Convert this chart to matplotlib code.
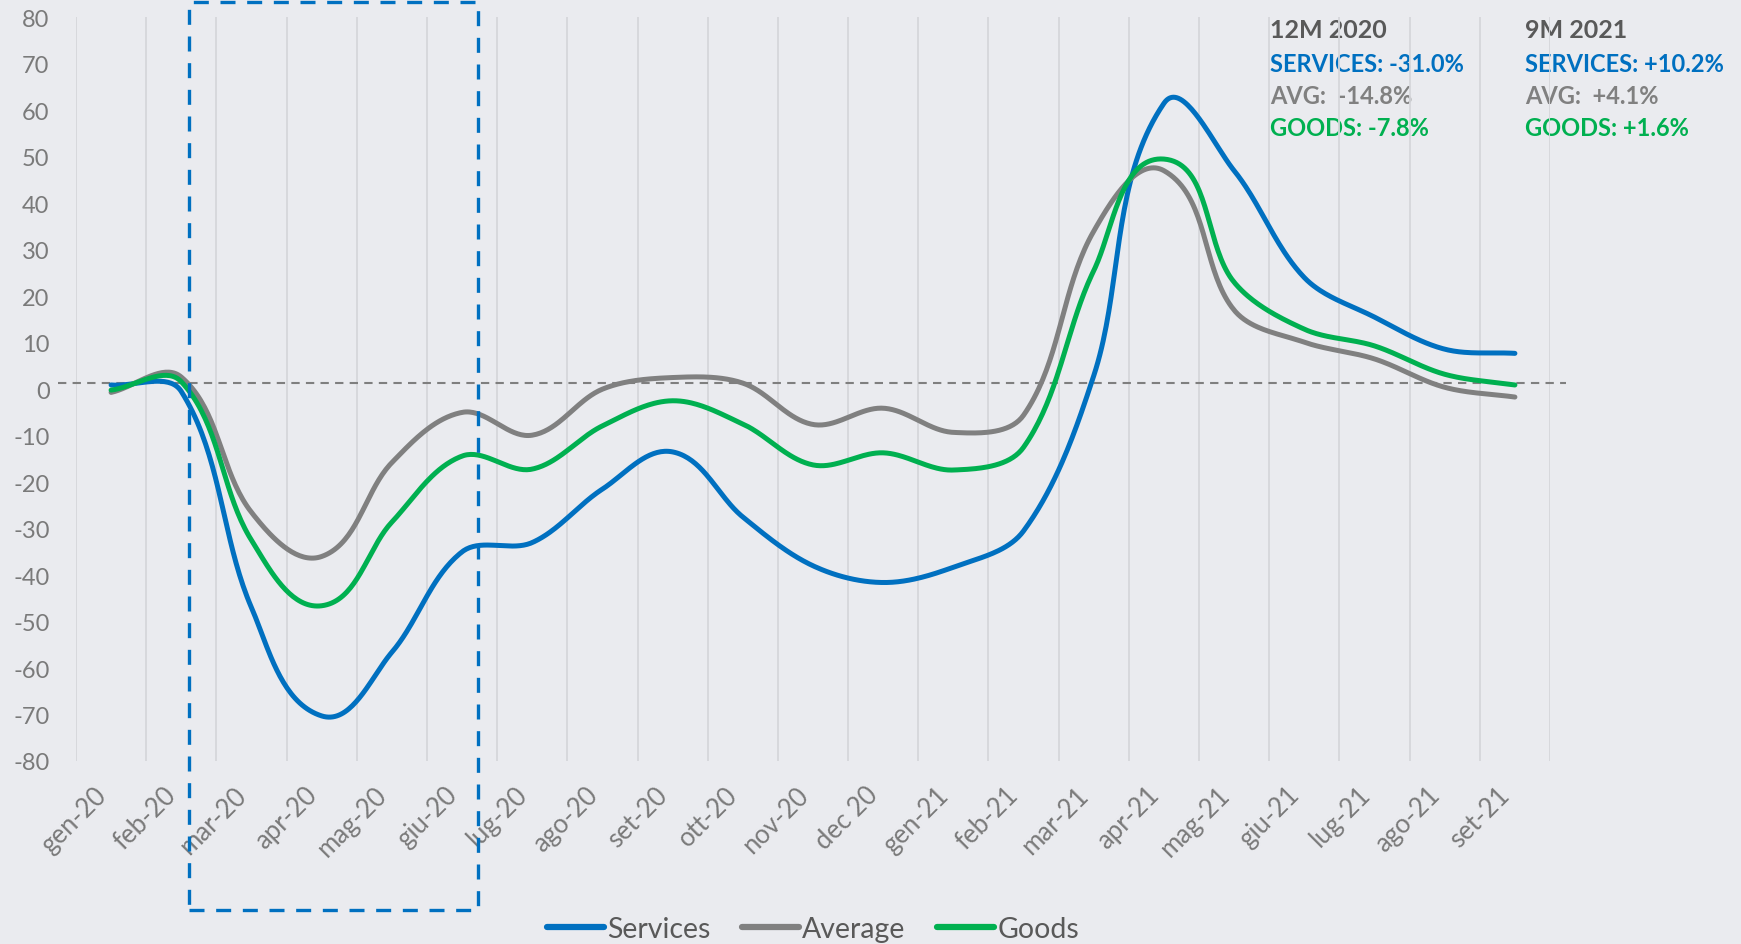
import numpy as np
import matplotlib
matplotlib.use("Agg")
import matplotlib.pyplot as plt
import matplotlib.transforms as mtransforms
from matplotlib.patches import Rectangle

plt.rcParams['font.family'] = ['Lato', 'DejaVu Sans']
plt.rcParams['axes.unicode_minus'] = False

# data
months = ['gen-20', 'feb-20', 'mar-20', 'apr-20', 'mag-20', 'giu-20', 'lug-20',
          'ago-20', 'set-20', 'ott-20', 'nov-20', 'dec 20', 'gen-21', 'feb-21',
          'mar-21', 'apr-21', 'mag-21', 'giu-21', 'lug-21', 'ago-21', 'set-21']
services = [0.9, -0.5, -47.0, -70.3, -56.6, -35.0, -33.0, -21.5, -13.5, -27.5, -38.0,
            -41.6, -38.3, -30.5, 2.9, 61.5, 47.0, 24.0, 15.5, 8.6, 7.7]
average = [-0.7, 2.6, -26.5, -36.0, -15.8, -5.0, -9.9, 0.0, 2.5, 1.3, -7.6,
           -4.1, -9.3, -5.6, 34.0, 47.0, 17.0, 10.1, 6.5, 0.4, -1.7]
goods = [-0.2, 1.6, -32.5, -46.6, -28.6, -14.4, -17.2, -7.9, -2.5, -7.5, -16.3,
         -13.7, -17.4, -12.5, 25.5, 49.5, 23.0, 12.9, 9.3, 3.2, 0.9]

labels_2020 = ['12M 2020', 'SERVICES: -31.0%', 'AVG:  -14.8%', 'GOODS: -7.8%']
labels_2021 = ['9M 2021', 'SERVICES: +10.2%', 'AVG:  +4.1%', 'GOODS: +1.6%']

BLUE = '#0070C0'
GREY = '#808080'
GREEN = '#00B050'
BG = '#EAEBEF'
TXT = '#7A7A7A'

W, H = 1741, 945


def smooth(xs, ys, sx, sy, n=40):
    # excel-like smoothed line: cubic bezier, tangents from neighbours,
    # handles scaled by segment length (done in pixel space)
    P = np.column_stack([np.asarray(xs, float) * sx, np.asarray(ys, float) * sy])
    out = [P[0]]
    for i in range(len(P) - 1):
        p0 = P[max(i - 1, 0)]
        p1 = P[i]
        p2 = P[i + 1]
        p3 = P[min(i + 2, len(P) - 1)]
        d = np.linalg.norm(p2 - p1)
        t1 = (p2 - p0) / np.linalg.norm(p2 - p0)
        t2 = (p3 - p1) / np.linalg.norm(p3 - p1)
        c1 = p1 + t1 * d / 3
        c2 = p2 - t2 * d / 3
        t = np.linspace(0, 1, n)[1:, None]
        seg = (1 - t)**3 * p1 + 3 * (1 - t)**2 * t * c1 + 3 * (1 - t) * t**2 * c2 + t**3 * p2
        out.extend(seg)
    out = np.array(out)
    return out[:, 0] / sx, out[:, 1] / sy


fig = plt.figure(figsize=(W / 100, H / 100), dpi=100)
fig.patch.set_facecolor(BG)
ax_l, ax_r, ax_t, ax_b = 76, 1550, 18.3, 762
ax = fig.add_axes([ax_l / W, 1 - ax_b / H, (ax_r - ax_l) / W, (ax_b - ax_t) / H])
ax.set_facecolor(BG)

x = np.arange(len(months))
ax.set_xlim(-0.5, len(months) - 0.5)
ax.set_ylim(-80, 80)

sx = (ax_r - ax_l) / len(months)
sy = (ax_b - ax_t) / 160.0

for vals, col, lab in [(services, BLUE, 'Services'),
                       (average, GREY, 'Average'),
                       (goods, GREEN, 'Goods')]:
    xs, ys = smooth(x, vals, sx, sy)
    ax.plot(xs, ys, color=col, lw=3.6, label=lab, solid_capstyle='round', zorder=3)

# zero reference line (slightly wider than the plot)
ax.axhline(1.3, xmin=-0.012, xmax=1.011, color='#7F7F7F', lw=1.5,
           ls=(0, (4, 3)), clip_on=False, zorder=2)

# vertical grid between categories
ax.set_xticks(x)
ax.set_xticklabels(months, rotation=45, ha='right', va='top', color=TXT, fontsize=18.5)
shift = mtransforms.ScaledTranslation(5 / 72, 0, fig.dpi_scale_trans)
for lbl in ax.get_xticklabels():
    lbl.set_transform(lbl.get_transform() + shift)
ax.set_xticks(np.arange(-0.5, len(months)), minor=True)
ax.grid(True, which='minor', axis='x', color='#D6D7DB', lw=1.3)
ax.set_axisbelow(True)
ax.set_yticks(np.arange(-80, 81, 10))
ax.tick_params(axis='y', length=0, pad=19, labelsize=17, labelcolor=TXT)
ax.tick_params(axis='x', which='both', length=0, pad=15)
for s in ax.spines.values():
    s.set_visible(False)

# highlight box around the lockdown months
fig.add_artist(Rectangle((189 / W, 1 - 911 / H), (478 - 189) / W, (911 - 3) / H,
                         transform=fig.transFigure, fill=False, edgecolor=BLUE,
                         lw=2.4, ls=(0, (4.5, 3.5))))

# summary text boxes (gridlines run over them, as in the original)
cols = ['#595959', BLUE, GREY, GREEN]
ys_txt = [31, 64, 97, 128]
for xpx, labs in [(1270, labels_2020), (1525, labels_2021)]:
    for lab, c, ypx in zip(labs, cols, ys_txt):
        ax.text(xpx / W, 1 - ypx / H, lab, transform=fig.transFigure,
                color=c, fontsize=18 if lab == labs[0] else 17, fontweight='bold',
                ha='left', va='center', zorder=0.3, clip_on=False)

leg = fig.legend(loc='center', bbox_to_anchor=(813 / W, 1 - 930 / H), ncol=3,
                 frameon=False, fontsize=20.5, handlelength=2.0, handletextpad=0.12,
                 columnspacing=1.1)
for t in leg.get_texts():
    t.set_color('#595959')
for h in leg.get_lines():
    h.set_linewidth(4.5)

fig.savefig('out.png', dpi=100, facecolor=BG)
